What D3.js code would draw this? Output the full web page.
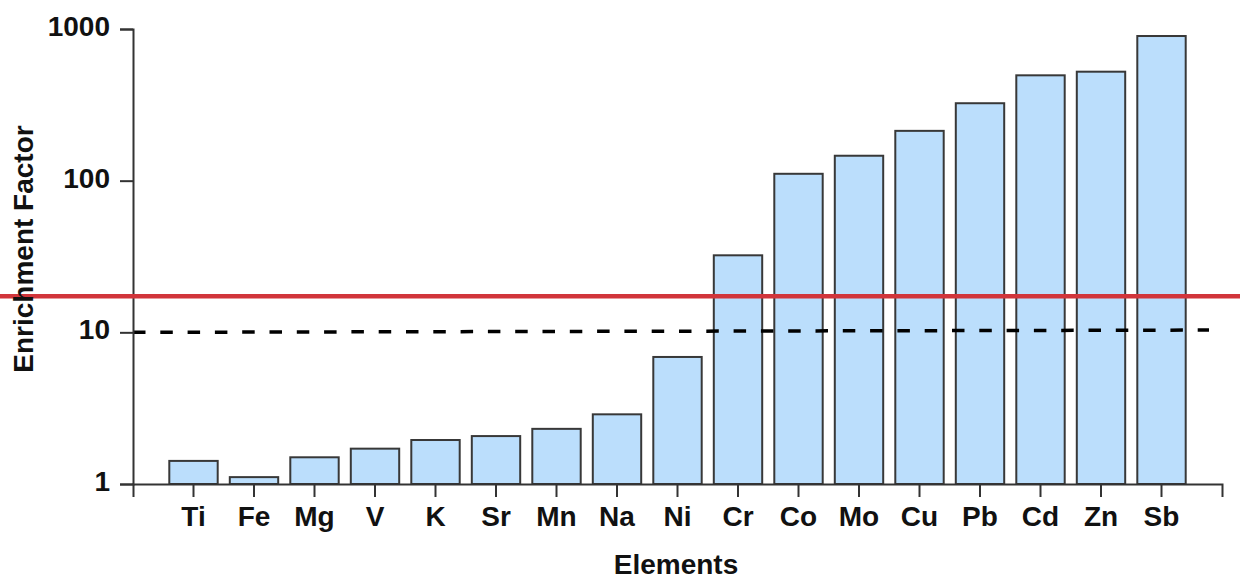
<!DOCTYPE html>
<html>
<head>
<meta charset="utf-8">
<script src="https://cdn.jsdelivr.net/npm/d3@7/dist/d3.min.js"></script>
<style>
  html, body { margin: 0; padding: 0; background: #fff; }
  svg { display: block; font-family: "Liberation Sans", Arial, sans-serif; }
</style>
</head>
<body>
<svg id="chart" width="1240" height="580"></svg>
<script>
// Enrichment factor per element (log scale)
const elements = ["Ti", "Fe", "Mg", "V", "K", "Sr", "Mn", "Na", "Ni", "Cr", "Co", "Mo", "Cu", "Pb", "Cd", "Zn", "Sb"];
const enrichment = [1.42, 1.11, 1.50, 1.71, 1.95, 2.07, 2.31, 2.88, 6.88, 32.2, 111, 146, 213, 324, 495, 523, 899];
const yTicks = [1, 10, 100, 1000];

// Reference levels: dashed guide (start/end value) and solid red threshold
const guideLevel = [10, 10.35];
const thresholdLevel = 17.3;

(function draw() {
  const svg = d3.select("#chart");
  const W = 1240;
  const plotLeft = 133, plotRight = 1222, plotTop = 29, plotBottom = 484;

  const x = d3.scaleBand()
    .domain(elements)
    .range([plotLeft, plotRight])
    .paddingInner(0.2)
    .paddingOuter(0.6);

  const y = d3.scaleLog()
    .domain([1, 1000])
    .range([plotBottom, plotTop]);

  // Bars
  svg.append("g")
    .selectAll("rect")
    .data(elements)
    .join("rect")
    .attr("x", d => x(d))
    .attr("width", x.bandwidth())
    .attr("y", (d, i) => y(enrichment[i]))
    .attr("height", (d, i) => plotBottom - y(enrichment[i]))
    .attr("fill", "#bbdefc")
    .attr("stroke", "#383838")
    .attr("stroke-width", 2);

  // Dashed guide line
  svg.append("line")
    .attr("x1", plotLeft)
    .attr("x2", 1209)
    .attr("y1", y(guideLevel[0]))
    .attr("y2", y(guideLevel[1]))
    .attr("stroke", "#000")
    .attr("stroke-width", 3.5)
    .attr("stroke-dasharray", "12.5,14.8");

  // Axes
  const xAxis = svg.append("g")
    .attr("transform", `translate(0,${plotBottom})`)
    .call(d3.axisBottom(x).tickSize(13).tickSizeOuter(13).tickPadding(9));

  const yAxis = svg.append("g")
    .attr("transform", `translate(${plotLeft},0)`)
    .call(d3.axisLeft(y).tickValues(yTicks).tickFormat(d3.format("d")).tickSize(13).tickSizeOuter(13).tickPadding(10));

  [xAxis, yAxis].forEach(g => {
    g.select(".domain").attr("stroke", "#333").attr("stroke-width", 2);
    g.selectAll(".tick line").attr("stroke", "#333").attr("stroke-width", 2);
    g.selectAll(".tick text")
      .attr("fill", "#111")
      .attr("font-size", 28)
      .attr("font-weight", "bold")
      .attr("font-family", "'Liberation Sans', Arial, sans-serif");
  });
  xAxis.selectAll(".tick text").attr("dy", null).attr("y", 42);
  yAxis.selectAll(".tick text").attr("dy", null).attr("y", 6.5);

  // Red threshold line across the full width
  svg.append("line")
    .attr("x1", 0)
    .attr("x2", W)
    .attr("y1", y(thresholdLevel))
    .attr("y2", y(thresholdLevel))
    .attr("stroke", "#d1353b")
    .attr("stroke-width", 4.5);

  // Axis titles
  svg.append("text")
    .attr("x", 676)
    .attr("y", 574)
    .attr("text-anchor", "middle")
    .attr("font-size", 28)
    .attr("font-weight", "bold")
    .attr("fill", "#111")
    .text("Elements");

  svg.append("text")
    .attr("transform", "translate(33,249) rotate(-90)")
    .attr("text-anchor", "middle")
    .attr("font-size", 28)
    .attr("font-weight", "bold")
    .attr("fill", "#111")
    .text("Enrichment Factor");
})();
</script>
</body>
</html>
